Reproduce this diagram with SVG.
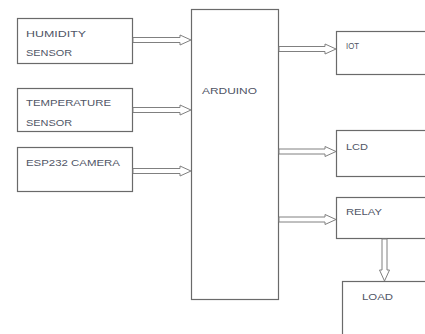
<svg xmlns="http://www.w3.org/2000/svg" width="425" height="334" viewBox="0 0 425 334">
<style>
.box{fill:#fff;stroke:#6a6a6a;stroke-width:1.2}
.t{font-family:"Liberation Sans",Arial,sans-serif;font-size:9.5px;fill:#505566}
.arr{fill:#fff;stroke:#808080;stroke-width:1}
</style>
<rect width="425" height="334" fill="#fff"/>
<g id="humidity"><rect class="box" x="17.5" y="18.5" width="115" height="45"/><text class="t" x="26" y="37" textLength="60" lengthAdjust="spacingAndGlyphs">HUMIDITY</text><text class="t" x="26" y="56" textLength="46" lengthAdjust="spacingAndGlyphs">SENSOR</text></g>
<g id="temperature"><rect class="box" x="17.5" y="88.5" width="115" height="43"/><text class="t" x="26" y="106" textLength="85" lengthAdjust="spacingAndGlyphs">TEMPERATURE</text><text class="t" x="26" y="126" textLength="46" lengthAdjust="spacingAndGlyphs">SENSOR</text></g>
<g id="camera"><rect class="box" x="17.5" y="147.5" width="115" height="44"/><text class="t" x="26" y="166" textLength="94" lengthAdjust="spacingAndGlyphs">ESP232 CAMERA</text></g>
<g id="arduino"><rect class="box" x="191.5" y="9.5" width="87" height="290"/><text class="t" x="202" y="94" textLength="55" lengthAdjust="spacingAndGlyphs">ARDUINO</text></g>
<g id="iot"><rect class="box" x="336.5" y="31.5" width="95" height="43"/><text class="t" x="346" y="49" textLength="13" lengthAdjust="spacingAndGlyphs">IOT</text></g>
<g id="lcd"><rect class="box" x="336.5" y="130.5" width="95" height="46"/><text class="t" x="346" y="150" textLength="22" lengthAdjust="spacingAndGlyphs">LCD</text></g>
<g id="relay"><rect class="box" x="336.5" y="197.5" width="95" height="41"/><text class="t" x="346" y="215" textLength="36" lengthAdjust="spacingAndGlyphs">RELAY</text></g>
<g id="load"><rect class="box" x="342.5" y="281.5" width="95" height="60"/><text class="t" x="362" y="300" textLength="31" lengthAdjust="spacingAndGlyphs">LOAD</text></g>
<g id="connectors">
<path class="arr" d="M133,37.5 H180 V35 L191,40 L180,45 V42.5 H133 Z"/>
<path class="arr" d="M133,107.5 H180 V105 L191,110 L180,115 V112.5 H133 Z"/>
<path class="arr" d="M133,168.5 H180 V166 L191,171 L180,176 V173.5 H133 Z"/>
<path class="arr" d="M279,46.5 H325 V44 L336,49 L325,54 V51.5 H279 Z"/>
<path class="arr" d="M279,149 H325 V146.5 L336,151.5 L325,156.5 V154 H279 Z"/>
<path class="arr" d="M279,217 H325 V214.5 L336,219.5 L325,224.5 V222 H279 Z"/>
<path class="arr" d="M382,239 V270 H379.5 L384.5,281 L389.5,270 H387 V239 Z"/>
</g>
</svg>
